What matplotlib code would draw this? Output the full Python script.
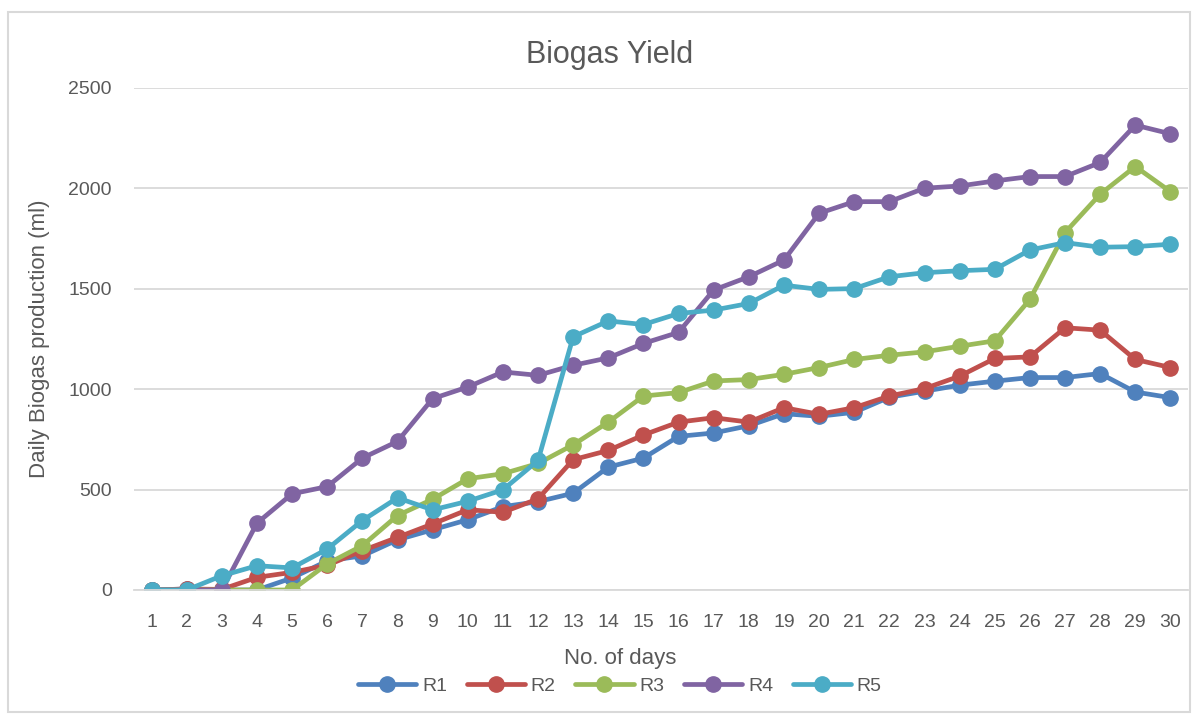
import matplotlib.pyplot as plt
from matplotlib.patches import Rectangle

plt.rcParams['font.family'] = ['Liberation Sans', 'DejaVu Sans']

days = list(range(1, 31))
r1 = [0, 5, 0, 0, 60, 145, 170, 250, 300, 350, 415, 440, 482, 612, 657, 765,
      782, 818, 878, 865, 885, 960, 990, 1020, 1040, 1058, 1058, 1078, 986, 958]
r2 = [0, 5, 3, 63, 88, 123, 196, 262, 329, 400, 387, 454, 649, 695, 772, 836,
      858, 836, 908, 875, 908, 966, 1003, 1065, 1153, 1161, 1306, 1294, 1148, 1108]
r3 = [0, 0, 0, 0, 0, 130, 221, 371, 452, 554, 579, 630, 723, 836, 966, 983,
      1041, 1048, 1074, 1108, 1148, 1169, 1186, 1214, 1241, 1447, 1780, 1971, 2109, 1984]
r4 = [0, 0, 0, 333, 479, 515, 657, 740, 953, 1011, 1086, 1069, 1119, 1156, 1228, 1283,
      1494, 1560, 1643, 1876, 1934, 1934, 2001, 2012, 2037, 2059, 2059, 2129, 2315, 2272]
r5 = [0, 0, 71, 121, 110, 204, 346, 459, 399, 442, 499, 645, 1261, 1340, 1322, 1377,
      1394, 1427, 1518, 1497, 1501, 1560, 1580, 1590, 1597, 1693, 1730, 1707, 1710, 1722]
names = ['R1', 'R2', 'R3', 'R4', 'R5']
colors = ['#4F81BD', '#C0504D', '#9BBB59', '#8064A2', '#4BACC6']

txt = '#595959'
grid = '#D9D9D9'

fig = plt.figure(figsize=(11.98, 7.17), dpi=100)
# chart area border
fig.patches.append(Rectangle((8 / 1198, 1 - 712 / 717), 1182 / 1198, 700 / 717,
                             transform=fig.transFigure, fill=False,
                             edgecolor=grid, linewidth=1.5))

ax = fig.add_axes([134 / 1198, 1 - 590 / 717, 1054 / 1198, 502 / 717])
for vals, name, c in zip([r1, r2, r3, r4, r5], names, colors):
    ax.plot(days, vals, color=c, lw=3.4, marker='o', ms=11, label=name,
            solid_capstyle='round')

ax.set_xlim(0.5, 30.5)
ax.set_ylim(0, 2500)
ax.set_xticks(days)
ax.set_yticks(range(0, 2501, 500))
ax.yaxis.grid(True, color=grid, lw=1.3)
ax.set_axisbelow(True)
for s in ['top', 'right', 'left']:
    ax.spines[s].set_visible(False)
ax.spines['bottom'].set_color(grid)
ax.spines['bottom'].set_linewidth(1.3)
ax.tick_params(length=0, labelsize=14, colors=txt)
ax.tick_params(axis='x', pad=17)
ax.tick_params(axis='y', pad=16)

fig.text(610 / 1198, 1 - 55 / 717, 'Biogas Yield', fontsize=22, color=txt,
         ha='center', va='center')
ax.set_xlabel('No. of days', fontsize=16, color=txt, va='center')
ax.xaxis.set_label_coords(0.461, -0.1355)
ax.set_ylabel('Daily Biogas production (ml)', fontsize=16, color=txt, va='center')
ax.yaxis.set_label_coords(-0.0892, 0.5)

ax.legend(loc='center', bbox_to_anchor=(0.461, -0.191), ncol=5, frameon=False,
          fontsize=14, labelcolor=txt, handlelength=3, columnspacing=1.0,
          handletextpad=0.3, borderaxespad=0)

fig.savefig('out.png', dpi=100)
